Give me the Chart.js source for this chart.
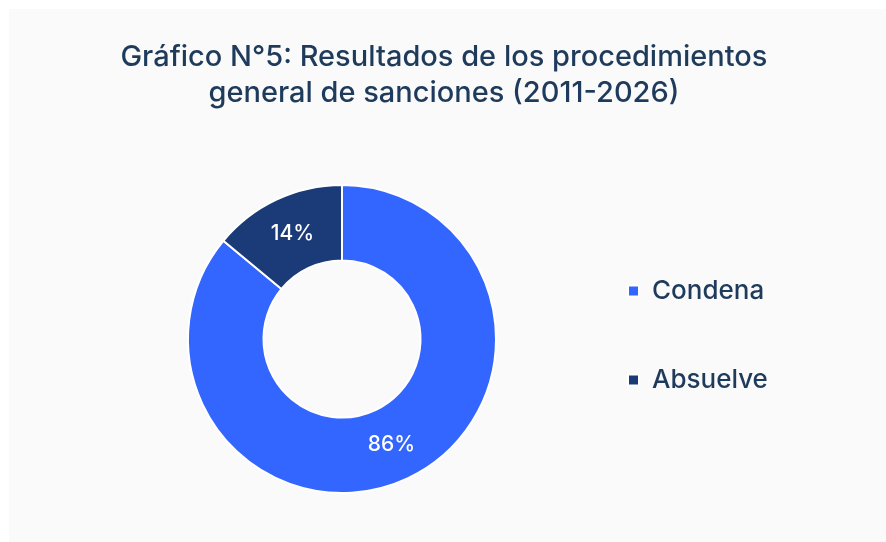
<!DOCTYPE html>
<html>
<head>
<meta charset="utf-8">
<script src="https://cdn.jsdelivr.net/npm/chart.js@4.4.1/dist/chart.umd.min.js"></script>
<style>
  html, body { margin: 0; padding: 0; background: #ffffff; }
  #panel { position: absolute; left: 9px; top: 9px; width: 877px; height: 533px; background: #fafafa; }
  canvas { display: block; }
</style>
</head>
<body>
<div id="panel"><canvas id="c" width="877" height="533"></canvas></div>
<script>
const titleLines = ['Gráfico N°5: Resultados de los procedimientos', 'general de sanciones (2011-2026)'];
const categories = ['Condena', 'Absuelve'];
const percentages = [86, 14];
const sliceColors = ['#3366ff', '#1b3a78'];

const textColor = '#1f3b5c';
const legendFont = { family: 'Inter', size: 26, weight: '500' };
const legendPad = 63;
const legendBox = 11;
const legendLeft = 558;     // canvas x where legend box starts
const centerX = 333;        // desired doughnut centre (canvas x)

const mctx = document.createElement('canvas').getContext('2d');
mctx.font = legendFont.weight + ' ' + legendFont.size + 'px ' + legendFont.family;
const widest = Math.max(...categories.map(c => mctx.measureText(c).width));
const legendWidth = legendPad + legendBox + legendFont.size / 2 + widest + 10;
const padRight = Math.max(0, 877 - legendLeft - legendWidth);
const padLeft = 2 * centerX - legendLeft;

const sliceLabels = {
  id: 'sliceLabels',
  afterDatasetsDraw(chart) {
    const ctx = chart.ctx;
    const meta = chart.getDatasetMeta(0);
    ctx.save();
    ctx.fillStyle = '#ffffff';
    ctx.font = '500 21px Inter';
    ctx.textAlign = 'center';
    ctx.textBaseline = 'middle';
    meta.data.forEach((arc, i) => {
      const p = arc.tooltipPosition();
      ctx.fillText(chart.data.datasets[0].data[i] + '%', p.x, p.y);
    });
    ctx.restore();
  }
};

const boxShift = {
  id: 'boxShift',
  afterLayout(chart) {
    const lg = chart.legend;
    if (lg) { lg.top -= 3.5; lg.bottom -= 3.5; lg.left -= 2; lg.right -= 2; }
    const tb = chart.titleBlock;
    if (tb) { tb.left -= 4.5; tb.right -= 4.5; }
  }
};

new Chart(document.getElementById('c'), {
  type: 'doughnut',
  data: {
    labels: categories,
    datasets: [{
      data: percentages,
      backgroundColor: sliceColors,
      borderColor: '#ffffff',
      borderWidth: 2,
      hoverOffset: 0
    }]
  },
  options: {
    responsive: false,
    animation: false,
    cutout: '51%',
    layout: { padding: { left: padLeft, right: padRight, top: 0, bottom: 48 } },
    plugins: {
      title: {
        display: true,
        text: titleLines,
        color: textColor,
        font: { family: 'Inter', size: 29, weight: '500', lineHeight: 1.25 },
        padding: { top: 30, bottom: 72.5 }
      },
      legend: {
        position: 'right',
        fullSize: false,
        labels: {
          color: textColor,
          font: legendFont,
          boxWidth: legendBox,
          boxHeight: legendBox,
          padding: legendPad
        }
      },
      tooltip: { enabled: false }
    }
  },
  plugins: [sliceLabels, boxShift]
});
</script>
</body>
</html>
